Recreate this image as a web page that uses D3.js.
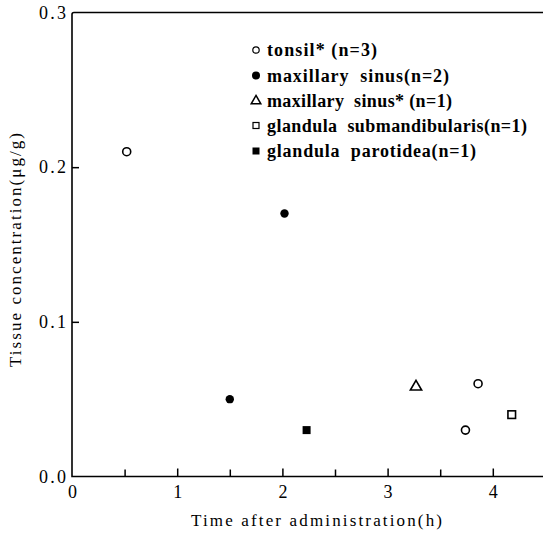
<!DOCTYPE html>
<html><head><meta charset="utf-8">
<script src="https://cdn.jsdelivr.net/npm/d3@7"></script>
<style>body{margin:0;background:#fff}svg{display:block}
svg text{font-family:"Liberation Serif","Times New Roman",serif;}</style>
</head><body>
<svg id="c" width="543" height="533"></svg>
<script>
const xTicks = [0, 1, 2, 3, 4];
const xMinor = [0.5, 1.5, 2.5, 3.5];
const yTicks = [0.0, 0.1, 0.2, 0.3];
const yTickLabels = ["0.0", "0.1", "0.2", "0.3"];

const tonsilX = [0.52, 3.74, 3.86];
const tonsilY = [0.21, 0.030, 0.060];
const maxSinusX = [1.50, 2.02];
const maxSinusY = [0.050, 0.170];
const maxSinusStarX = [3.27];
const maxSinusStarY = [0.058];
const submandX = [4.18];
const submandY = [0.040];
const parotidX = [2.23];
const parotidY = [0.030];

const legendLabels = ["tonsil* (n=3)", "maxillary  sinus(n=2)", "maxillary  sinus* (n=1)", "glandula  submandibularis(n=1)", "glandula  parotidea(n=1)"];
const legendWidths = [110, 182, 185, 260, 209];

const svg = d3.select("#c");
const x = d3.scaleLinear().domain([0, 4.5]).range([72, 545.4]);
const y = d3.scaleLinear().domain([0, 0.3]).range([476.5, 12.5]);

svg.append("path")
  .attr("d", `M${x(4.5)},${y(0.3)} L${x(0)+2},${y(0.3)} Q${x(0)},${y(0.3)} ${x(0)},${y(0.3)+2} L${x(0)},${y(0)} L${x(4.5)},${y(0)}`)
  .attr("fill", "none").attr("stroke", "#000").attr("stroke-width", 1.6);

const gx = svg.append("g").attr("transform", `translate(0,${y(0)})`)
  .call(d3.axisBottom(x).tickValues(xTicks).tickSizeInner(-8).tickSizeOuter(0).tickPadding(18).tickFormat(d3.format("d")));
gx.select(".domain").remove();
gx.attr("font-family", null);
gx.selectAll(".tick line").attr("stroke-width", 1.5);
gx.selectAll(".tick text").attr("font-size", 18).attr("fill", "#000").attr("dy", "0.2em");
gx.selectAll(".tick").filter(d => d === 0).select("line").remove();

const gxm = svg.append("g").attr("transform", `translate(0,${y(0)})`)
  .call(d3.axisBottom(x).tickValues(xMinor).tickSizeInner(-7).tickSizeOuter(0).tickFormat(""));
gxm.select(".domain").remove();
gxm.selectAll(".tick line").attr("stroke-width", 1.5);

const gy = svg.append("g").attr("transform", `translate(${x(0)},0)`)
  .call(d3.axisLeft(y).tickValues(yTicks).tickSizeInner(-7).tickSizeOuter(0).tickPadding(6).tickFormat((d, i) => yTickLabels[i]));
gy.select(".domain").remove();
gy.attr("font-family", null);
gy.selectAll(".tick line").attr("stroke-width", 1.5);
gy.selectAll(".tick").filter(d => d === 0 || d === 0.3).select("line").remove();
gy.selectAll(".tick text").attr("font-size", 18).attr("fill", "#000")
  .attr("text-anchor", "start").attr("x", -33).attr("textLength", 27).attr("lengthAdjust", "spacing");

svg.append("text").attr("x", 191).attr("y", 526).attr("font-size", 17)
  .attr("textLength", 251).attr("lengthAdjust", "spacing").text("Time after administration(h)");
svg.append("text").attr("transform", "translate(21,367) rotate(-90)").attr("font-size", 17)
  .attr("textLength", 234).attr("lengthAdjust", "spacing").text("Tissue concentration(μg/g)");

const plot = svg.append("g");
const pts = (xs, ys) => xs.map((v, i) => [v, ys[i]]);
plot.selectAll(".tonsil").data(pts(tonsilX, tonsilY)).join("circle")
  .attr("cx", d => x(d[0])).attr("cy", d => y(d[1])).attr("r", 4)
  .attr("fill", "#fff").attr("stroke", "#000").attr("stroke-width", 1.6);
plot.selectAll(".maxs").data(pts(maxSinusX, maxSinusY)).join("circle")
  .attr("cx", d => x(d[0])).attr("cy", d => y(d[1])).attr("r", 4.2).attr("fill", "#000");
const tri = d3.symbol().type(d3.symbolTriangle).size(55);
plot.selectAll(".tri").data(pts(maxSinusStarX, maxSinusStarY)).join("path")
  .attr("d", tri).attr("transform", d => `translate(${x(d[0])},${y(d[1])})`)
  .attr("fill", "#fff").attr("stroke", "#000").attr("stroke-width", 1.6);
plot.selectAll(".sub").data(pts(submandX, submandY)).join("rect")
  .attr("x", d => x(d[0]) - 3.8).attr("y", d => y(d[1]) - 3.8).attr("width", 7.6).attr("height", 7.6)
  .attr("fill", "#fff").attr("stroke", "#000").attr("stroke-width", 1.6);
plot.selectAll(".par").data(pts(parotidX, parotidY)).join("rect")
  .attr("x", d => x(d[0]) - 4).attr("y", d => y(d[1]) - 4).attr("width", 8).attr("height", 8).attr("fill", "#000");

const lg = svg.append("g");
const rowY = [50, 75.5, 100.5, 125.5, 151];
const sx = 256;
lg.append("circle").attr("cx", sx).attr("cy", rowY[0]).attr("r", 3.2).attr("fill", "#fff").attr("stroke", "#000").attr("stroke-width", 1.2);
lg.append("circle").attr("cx", sx).attr("cy", rowY[1]).attr("r", 4).attr("fill", "#000");
lg.append("path").attr("d", d3.symbol().type(d3.symbolTriangle).size(40)).attr("transform", `translate(${sx},${rowY[2]+0.5})`)
  .attr("fill", "#fff").attr("stroke", "#000").attr("stroke-width", 1.5);
lg.append("rect").attr("x", sx - 3).attr("y", rowY[3] - 3).attr("width", 6).attr("height", 6).attr("fill", "#fff").attr("stroke", "#000").attr("stroke-width", 1.2);
lg.append("rect").attr("x", sx - 3.5).attr("y", rowY[4] - 3.5).attr("width", 7).attr("height", 7).attr("fill", "#000");
lg.selectAll(".lt").data(legendLabels).join("text")
  .attr("x", 267).attr("y", (d, i) => rowY[i] + 6)
  .attr("font-size", 18).attr("font-weight", "bold")
  .attr("textLength", (d, i) => legendWidths[i]).attr("lengthAdjust", "spacing")
  .style("white-space", "pre")
  .text(d => d);
</script>
</body></html>
